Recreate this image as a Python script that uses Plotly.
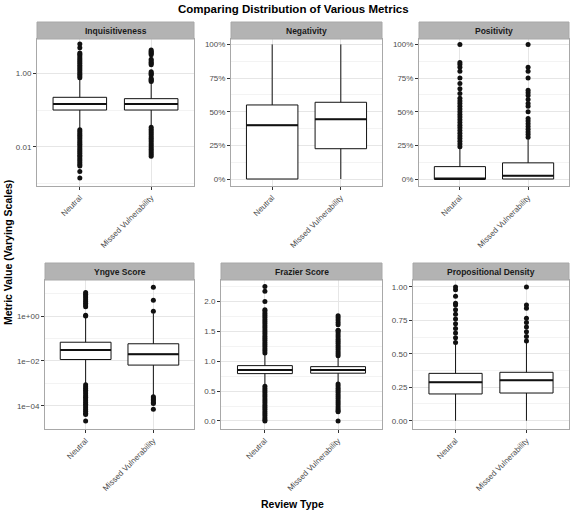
import plotly.graph_objects as go

W, H = 570, 512

categories = ["Neutral", "Missed Vulnerability"]
panel_titles = ["Inquisitiveness", "Negativity", "Positivity",
                "Yngve Score", "Frazier Score", "Propositional Density"]

# ---- Inquisitiveness (log scale)
inq_q1 = [0.100, 0.100]
inq_med = [0.146, 0.146]
inq_q3 = [0.222, 0.204]
inq_lo = [0.031, 0.036]
inq_hi = [0.72, 0.56]
inq_out_neutral = [0.76, 0.85, 0.95, 1.06, 1.19, 1.33, 1.49, 1.67, 1.87, 2.1, 2.35, 2.63,
                   2.95, 3.3, 3.55, 5.0, 6.3,
                   0.029, 0.026, 0.023, 0.0206, 0.0184, 0.0164, 0.0146, 0.013, 0.0116,
                   0.0104, 0.0093, 0.0083, 0.0074, 0.0066, 0.0059, 0.0053, 0.0047, 0.0042,
                   0.0037, 0.0033, 0.003, 0.0021, 0.0014]
inq_out_mv = [0.60, 0.64, 0.68, 0.72, 0.90, 0.96, 1.02, 1.10, 1.70, 1.85, 2.0, 2.2, 2.4,
              3.2, 3.45, 3.7, 4.0, 4.3,
              0.034, 0.030, 0.027, 0.024, 0.0215, 0.019, 0.017, 0.0152, 0.0136, 0.0121,
              0.0108, 0.0096, 0.0086, 0.0077, 0.0068, 0.0061, 0.0055]

# ---- Negativity
neg_q1 = [0.0, 0.225]
neg_med = [0.40, 0.443]
neg_q3 = [0.55, 0.57]
neg_lo = [0.0, 0.0]
neg_hi = [1.0, 1.0]
neg_out_neutral = []
neg_out_mv = []

# ---- Positivity
pos_q1 = [0.0, 0.0]
pos_med = [0.0, 0.025]
pos_q3 = [0.092, 0.12]
pos_lo = [0.0, 0.0]
pos_hi = [0.228, 0.295]
pos_out_neutral = [0.24, 0.26, 0.28, 0.30, 0.32, 0.34, 0.36, 0.38, 0.40, 0.42, 0.44, 0.46,
                   0.48, 0.50, 0.52, 0.54, 0.56, 0.58, 0.60, 0.636, 0.67, 0.71, 0.75,
                   0.80, 0.83, 0.85, 0.865, 1.0]
pos_out_mv = [0.31, 0.33, 0.35, 0.37, 0.39, 0.41, 0.43, 0.45, 0.50, 0.54, 0.56, 0.59,
              0.62, 0.64, 0.66, 0.75, 0.80, 0.83, 1.0]

# ---- Yngve Score (log scale)
yng_q1 = [0.0115, 0.0065]
yng_med = [0.031, 0.020]
yng_q3 = [0.068, 0.058]
yng_lo = [9.1e-4, 2.8e-4]
yng_hi = [0.93, 1.3]
yng_out_neutral = [1.0, 1.1, 2.6, 3.1, 3.7, 4.5, 5.4, 6.5, 7.8, 9.3, 11.2,
                   8.5e-4, 7.0e-4, 5.9e-4, 4.9e-4, 4.1e-4, 3.4e-4, 2.8e-4, 2.4e-4, 2.0e-4,
                   1.65e-4, 1.4e-4, 1.15e-4, 9.6e-5, 8.0e-5, 6.7e-5, 5.6e-5, 4.6e-5,
                   4.0e-5, 2.1e-5]
yng_out_mv = [1.66, 5.1, 19.5, 2.5e-4, 2.2e-4, 1.9e-4, 1.65e-4, 1.4e-4, 1.25e-4, 7.0e-5]

# ---- Frazier Score
fra_q1 = [0.793, 0.80]
fra_med = [0.855, 0.855]
fra_q3 = [0.927, 0.91]
fra_lo = [0.60, 0.64]
fra_hi = [1.12, 1.08]
fra_out_neutral = [1.14, 1.175, 1.21, 1.245, 1.28, 1.315, 1.35, 1.385, 1.42, 1.455, 1.49,
                   1.525, 1.56, 1.595, 1.63, 1.665, 1.70, 1.735, 1.77, 1.805, 1.84, 1.86,
                   2.0, 2.17, 2.25,
                   0.58, 0.545, 0.51, 0.475, 0.44, 0.405, 0.37, 0.335, 0.30, 0.265, 0.23,
                   0.195, 0.16, 0.125, 0.09, 0.055, 0.02, 0.0]
fra_out_mv = [1.09, 1.125, 1.16, 1.195, 1.23, 1.265, 1.30, 1.335, 1.37, 1.405, 1.44,
              1.475, 1.51, 1.52, 1.61, 1.65, 1.69, 1.73, 1.76,
              0.62, 0.585, 0.55, 0.515, 0.48, 0.445, 0.41, 0.375, 0.34, 0.305, 0.27,
              0.235, 0.20, 0.17, 0.156, 0.0]

# ---- Propositional Density
prop_q1 = [0.20, 0.207]
prop_med = [0.287, 0.302]
prop_q3 = [0.354, 0.362]
prop_lo = [0.0, 0.0]
prop_hi = [0.571, 0.586]
prop_out_neutral = [0.585, 0.62, 0.655, 0.69, 0.725, 0.76, 0.795, 0.83, 0.865, 0.878,
                    0.93, 0.98, 1.0]
prop_out_mv = [0.595, 0.63, 0.665, 0.70, 0.735, 0.766, 0.84, 0.865, 1.0]

# ---- tick labels
inq_ticks = [1.0, 0.01]
inq_ticktext = ["1.00", "0.01"]
pct_ticks = [0, 0.25, 0.5, 0.75, 1.0]
pct_ticktext = ["0%", "25%", "50%", "75%", "100%"]
yng_ticks = [1.0, 0.01, 0.0001]
yng_ticktext = ["1e+00", "1e\u221202", "1e\u221204"]
fra_ticks = [0.0, 0.5, 1.0, 1.5, 2.0]
fra_ticktext = ["0.0", "0.5", "1.0", "1.5", "2.0"]
prop_ticks = [0.0, 0.25, 0.5, 0.75, 1.0]
prop_ticktext = ["0.00", "0.25", "0.50", "0.75", "1.00"]

panels = [
    dict(stats=(inq_q1, inq_med, inq_q3, inq_lo, inq_hi), outs=(inq_out_neutral, inq_out_mv),
         type="log", range=[-3.07, 0.935], ticks=inq_ticks, ticktext=inq_ticktext,
         minor=[10.0, 0.1, 0.001], px=(37, 194), py=(39, 186)),
    dict(stats=(neg_q1, neg_med, neg_q3, neg_lo, neg_hi), outs=(neg_out_neutral, neg_out_mv),
         type="linear", range=[-0.052, 1.04], ticks=pct_ticks, ticktext=pct_ticktext,
         minor=[0.125, 0.375, 0.625, 0.875], px=(231, 382), py=(39, 186)),
    dict(stats=(pos_q1, pos_med, pos_q3, pos_lo, pos_hi), outs=(pos_out_neutral, pos_out_mv),
         type="linear", range=[-0.052, 1.04], ticks=pct_ticks, ticktext=pct_ticktext,
         minor=[0.125, 0.375, 0.625, 0.875], px=(419, 569), py=(39, 186)),
    dict(stats=(yng_q1, yng_med, yng_q3, yng_lo, yng_hi), outs=(yng_out_neutral, yng_out_mv),
         type="log", range=[-5.04, 1.61], ticks=yng_ticks, ticktext=yng_ticktext,
         minor=[10.0, 0.1, 0.001], px=(45, 194), py=(280, 429)),
    dict(stats=(fra_q1, fra_med, fra_q3, fra_lo, fra_hi), outs=(fra_out_neutral, fra_out_mv),
         type="linear", range=[-0.134, 2.36], ticks=fra_ticks, ticktext=fra_ticktext,
         minor=[0.25, 0.75, 1.25, 1.75, 2.25], px=(221, 382), py=(280, 429)),
    dict(stats=(prop_q1, prop_med, prop_q3, prop_lo, prop_hi), outs=(prop_out_neutral, prop_out_mv),
         type="linear", range=[-0.062, 1.052], ticks=prop_ticks, ticktext=prop_ticktext,
         minor=[0.125, 0.375, 0.625, 0.875], px=(413, 569), py=(280, 429)),
]

FONT = "Liberation Sans, Arial, Helvetica, sans-serif"
GRID = "#e6e6e6"
MINOR = "#f3f3f3"
BORDER = "#a8a8a8"
STRIP_FILL = "#b3b3b3"
TICKCOL = "#4d4d4d"

xpos = [1, 2]
BW = 0.75

fig = go.Figure()
shapes = []
annotations = []
layout_axes = {}

for k, p in enumerate(panels, start=1):
    xa = "x" if k == 1 else f"x{k}"
    ya = "y" if k == 1 else f"y{k}"
    q1, med, q3, lo, hi = p["stats"]
    fig.add_trace(go.Box(
        x=xpos, q1=q1, median=med, q3=q3, lowerfence=lo, upperfence=hi,
        width=BW, whiskerwidth=0, boxpoints=False,
        fillcolor="white", line=dict(color="#111111", width=1),
        xaxis=xa, yaxis=ya, showlegend=False, hoverinfo="skip"))
    # thicker median segment
    mx, my = [], []
    for xi, m in zip(xpos, med):
        mx += [xi - BW / 2, xi + BW / 2, None]
        my += [m, m, None]
    fig.add_trace(go.Scatter(x=mx, y=my, mode="lines", line=dict(color="#111111", width=2),
                             xaxis=xa, yaxis=ya, showlegend=False, hoverinfo="skip"))
    # outliers
    for xi, outs in zip(xpos, p["outs"]):
        if outs:
            fig.add_trace(go.Scatter(x=[xi] * len(outs), y=outs, mode="markers",
                                     marker=dict(color="#111111", size=5),
                                     xaxis=xa, yaxis=ya, showlegend=False, hoverinfo="skip"))

    x0, x1 = p["px"]
    y0, y1 = p["py"]
    dom_x = [x0 / W, x1 / W]
    dom_y = [1 - y1 / H, 1 - y0 / H]
    xkey = "xaxis" if k == 1 else f"xaxis{k}"
    ykey = "yaxis" if k == 1 else f"yaxis{k}"
    layout_axes[xkey] = dict(
        domain=dom_x, anchor=ya, range=[0.4, 2.6], tickvals=xpos, ticktext=categories,
        tickangle=-45, ticks="outside", ticklen=3, tickcolor="#333333",
        tickfont=dict(family=FONT, size=8, color=TICKCOL),
        showgrid=True, gridcolor=GRID, gridwidth=1, zeroline=False,
        showline=True, mirror=True, linecolor=BORDER, linewidth=1, automargin=False)
    layout_axes[ykey] = dict(
        domain=dom_y, anchor=xa, type=p["type"], range=p["range"],
        tickvals=p["ticks"], ticktext=p["ticktext"],
        ticks="outside", ticklen=3, tickcolor="#333333",
        tickfont=dict(family=FONT, size=8, color=TICKCOL),
        showgrid=True, gridcolor=GRID, gridwidth=1, zeroline=False,
        minor=dict(tickvals=p["minor"], showgrid=True, gridcolor=MINOR, gridwidth=1, ticks=""),
        showline=True, mirror=True, linecolor=BORDER, linewidth=1, automargin=False)

    # strip
    st_top = y0 - 17
    shapes.append(dict(type="rect", xref="paper", yref="paper",
                       x0=x0 / W, x1=x1 / W, y0=1 - y0 / H, y1=1 - st_top / H,
                       fillcolor=STRIP_FILL, line=dict(color=BORDER, width=1), layer="above"))
    annotations.append(dict(text=f"<b>{panel_titles[k - 1]}</b>", xref="paper", yref="paper",
                            x=(x0 + x1) / 2 / W, y=1 - (y0 - 8.5) / H,
                            xanchor="center", yanchor="middle", showarrow=False,
                            font=dict(family=FONT, size=8.5, color="#1a1a1a")))

annotations.append(dict(text="<b>Comparing Distribution of Various Metrics</b>",
                        xref="paper", yref="paper", x=293 / W, y=1 - 9 / H,
                        xanchor="center", yanchor="middle", showarrow=False,
                        font=dict(family=FONT, size=11.5, color="#000000")))
annotations.append(dict(text="<b>Metric Value (Varying Scales)</b>",
                        xref="paper", yref="paper", x=8 / W, y=1 - 253 / H,
                        xanchor="center", yanchor="middle", showarrow=False, textangle=-90,
                        font=dict(family=FONT, size=10.5, color="#000000")))
annotations.append(dict(text="<b>Review Type</b>",
                        xref="paper", yref="paper", x=292 / W, y=1 - 504 / H,
                        xanchor="center", yanchor="middle", showarrow=False,
                        font=dict(family=FONT, size=10.5, color="#000000")))

fig.update_layout(
    width=W, height=H, template="none",
    margin=dict(l=0, r=0, t=0, b=0, pad=0),
    paper_bgcolor="white", plot_bgcolor="white",
    showlegend=False, shapes=shapes, annotations=annotations,
    hovermode=False,
    **layout_axes)

fig.write_html("out.html",
               config={"displayModeBar": False, "staticPlot": True},
               post_script="document.body.style.margin='0';document.body.style.padding='0';"
                           "document.documentElement.style.overflow='hidden';")
